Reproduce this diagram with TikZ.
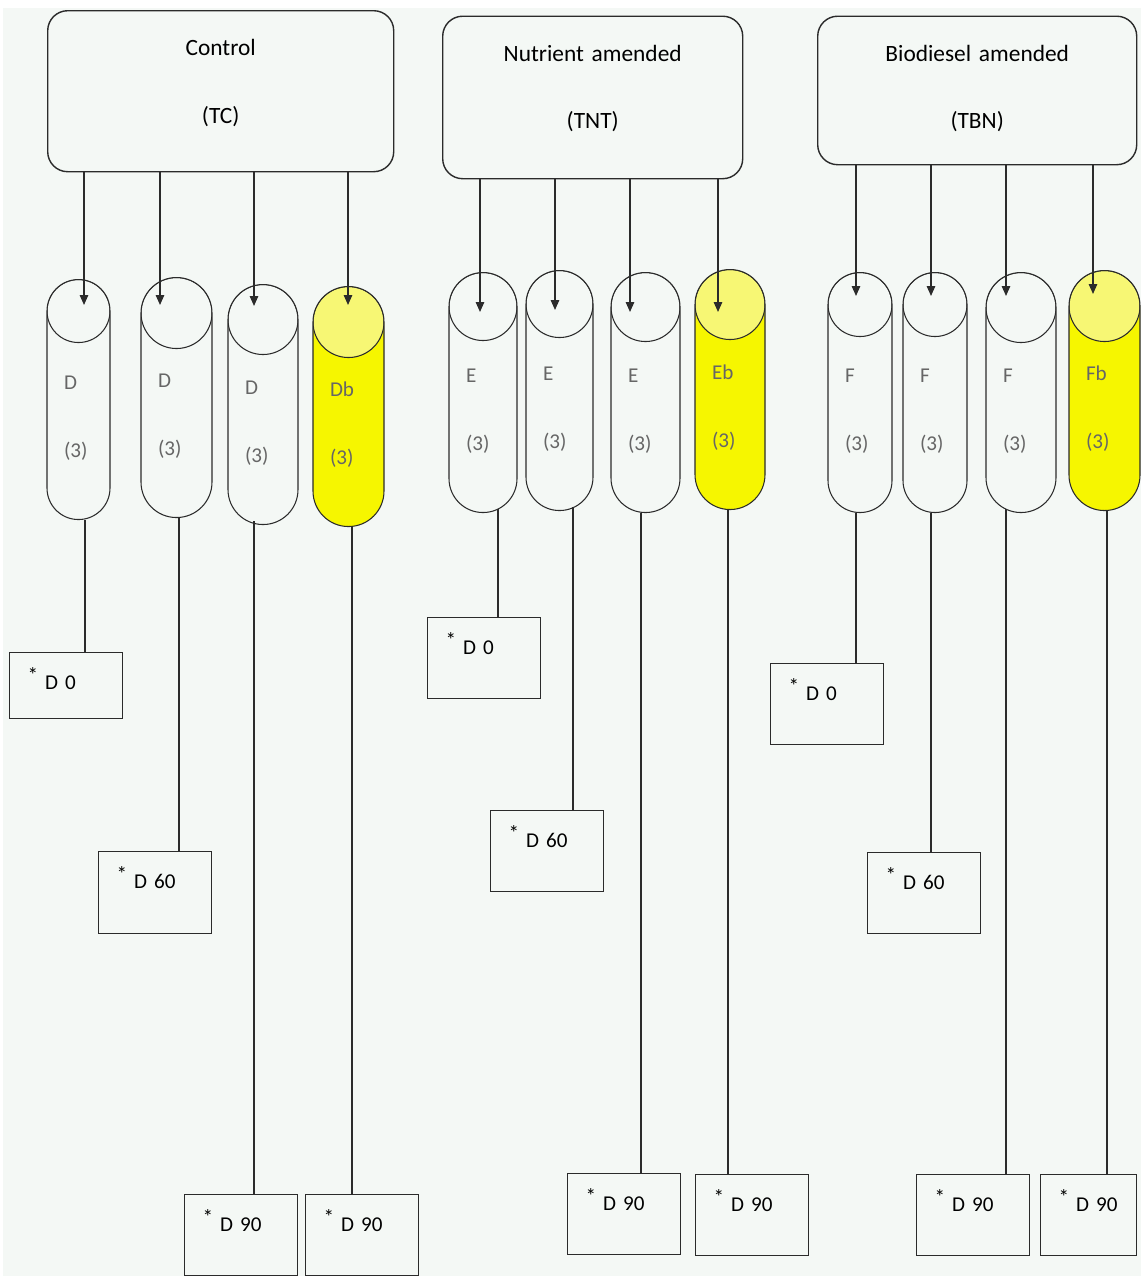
\documentclass[tikz,border=0pt]{standalone}
\usepackage{fontspec}
\setmainfont{Carlito}
\usepackage{xcolor}
\usetikzlibrary{arrows.meta,positioning}
\definecolor{cpaper}{HTML}{F4F8F5}
\definecolor{cline}{HTML}{2B2B2B}
\definecolor{cylw}{HTML}{F6F600}
\definecolor{cylwcap}{HTML}{F7F774}
\definecolor{clab}{HTML}{666666}

\begin{document}
\begin{tikzpicture}[
    x=0.2mm, y=-0.2mm,
    cap fill/.store in=\tubecap, cap fill=cpaper,
    grp/.style={draw=cline, fill=cpaper, line width=0.8pt, rounded corners=4mm, anchor=north west,
                inner sep=0pt, align=center, text height=9mm, font=\fontsize{13.3}{38.5}\selectfont},
    tube/.style={draw=cline, fill=cpaper, line width=0.6pt, anchor=north, minimum width=#1,
                 rounded corners=#1/2-0.01mm, inner sep=0pt, text width=#1-6.8mm, align=left,
                 text height=22mm, text depth=26mm, text=clab, font=\fontsize{12}{38.5}\selectfont,
                 path picture={\draw[line width=0.6pt, draw=cline, fill=\tubecap]
                   ([yshift=-#1/2]path picture bounding box.north) circle[radius=#1/2];}},
    day/.style={draw=cline, fill=cpaper, line width=0.8pt, anchor=north west, inner xsep=3.6mm,
                inner ysep=0pt, text width=15.4mm, align=left, text height=7.4mm, text depth=8.8mm,
                font=\fontsize{12}{14}\selectfont},
    arr/.style={-{Triangle[length=2mm,width=1.7mm]}, line width=0.8pt, draw=cline},
    link/.style={line width=0.8pt, draw=cline},
    deep/.style={link, shorten <=-0.8mm}
]
\useasboundingbox (0,0) rectangle (1141,1276);
\fill[cpaper] (3,8) rectangle (1141,1276);

% treatments
\node[grp, text width=69.2mm, text depth=23.2mm] (tc) at (47,10) {Control\\(TC)};
\node[grp, text width=60mm, text depth=23.5mm] (tn) at (442,15.5) {Nutrient amended\\(TNT)};
\node[grp, text width=63.8mm, text depth=20.7mm] (tb) at (817,15.5) {Biodiesel amended\\(TBN)};

% microcosms
\node[tube=12.6mm] (d1) at (78.5,279) {D\\(3)};
\node[tube=14.2mm] (d2) at (176.5,277) {D\\(3)};
\node[tube=14mm] (d3) at (263,284) {D\\(3)};
\node[tube=14.2mm, fill=cylw, cap fill=cylwcap] (d4) at (348.5,286) {Db\\(3)};
\node[tube=13.6mm] (e1) at (483,272) {E\\(3)};
\node[tube=13.4mm] (e2) at (559.5,270) {E\\(3)};
\node[tube=13.8mm] (e3) at (645.5,272) {E\\(3)};
\node[tube=14mm, fill=cylw, cap fill=cylwcap] (e4) at (730,269) {Eb\\(3)};
\node[tube=12.8mm] (f1) at (860,272) {F\\(3)};
\node[tube=12.8mm] (f2) at (935,272) {F\\(3)};
\node[tube=14mm] (f3) at (1021,272) {F\\(3)};
\node[tube=14.2mm, fill=cylw, cap fill=cylwcap] (f4) at (1104.5,270) {Fb\\(3)};

% sampling days
\node[day, text depth=5.8mm] (dd0) at (9,652) {\raisebox{4pt}{*} D 0};
\node[day, text depth=9mm] (dd60) at (98,851) {\raisebox{4pt}{*} D 60};
\node[day] (dd90a) at (184,1194) {\raisebox{4pt}{*} D 90};
\node[day] (dd90b) at (305,1194) {\raisebox{4pt}{*} D 90};
\node[day] (de0) at (427,617) {\raisebox{4pt}{*} D 0};
\node[day] (de60) at (490,810) {\raisebox{4pt}{*} D 60};
\node[day] (de90a) at (567,1173) {\raisebox{4pt}{*} D 90};
\node[day] (de90b) at (695,1174) {\raisebox{4pt}{*} D 90};
\node[day] (df0) at (770,663) {\raisebox{4pt}{*} D 0};
\node[day] (df60) at (867,852) {\raisebox{4pt}{*} D 60};
\node[day] (df90a) at (916,1174) {\raisebox{4pt}{*} D 90};
\node[day, text width=12mm] (df90b) at (1040,1174) {\raisebox{4pt}{*} D 90};

% arrow tips and drop points
\coordinate (pd1) at (84,305);   \coordinate (pd2) at (160,305);
\coordinate (pd3) at (254,306);  \coordinate (pd4) at (348,305);
\coordinate (pe1) at (480,312);  \coordinate (pe2) at (555,310);
\coordinate (pe3) at (630,312);  \coordinate (pe4) at (718,312);
\coordinate (pf1) at (856,296);  \coordinate (pf2) at (931,296);
\coordinate (pf3) at (1006,296); \coordinate (pf4) at (1093,294);
\coordinate (qd1) at (dd0.north -| 85,0);    \coordinate (qd2) at (dd60.north -| 179,0);
\coordinate (qd3) at (dd90a.north -| 254,0); \coordinate (qd4) at (dd90b.north -| 352,0);
\coordinate (qe1) at (de0.north -| 498,0);   \coordinate (qe2) at (de60.north -| 573,0);
\coordinate (qe3) at (de90a.north -| 641,0); \coordinate (qe4) at (de90b.north -| 728,0);
\coordinate (qf1) at (df0.north -| 856,0);   \coordinate (qf2) at (df60.north -| 931,0);
\coordinate (qf3) at (df90a.north -| 1006,0); \coordinate (qf4) at (df90b.north -| 1107,0);

\foreach \t/\g in {d/tc, e/tn, f/tb}
  \foreach \i in {1,2,3,4}
    \draw[arr] (\g.south -| p\t\i) -- (p\t\i);

\draw[link] (d1.south -| qd1) -- (qd1);
\draw[link] (d2.south -| qd2) -- (qd2);
\draw[deep] (d3.south -| qd3) -- (qd3);
\draw[link] (d4.south -| qd4) -- (qd4);
\draw[deep] (e1.south -| qe1) -- (qe1);
\draw[deep] (e2.south -| qe2) -- (qe2);
\draw[link] (e3.south -| qe3) -- (qe3);
\draw[link] (e4.south -| qe4) -- (qe4);
\draw[link] (f1.south -| qf1) -- (qf1);
\draw[link] (f2.south -| qf2) -- (qf2);
\draw[deep] (f3.south -| qf3) -- (qf3);
\draw[link] (f4.south -| qf4) -- (qf4);
\end{tikzpicture}
\end{document}
